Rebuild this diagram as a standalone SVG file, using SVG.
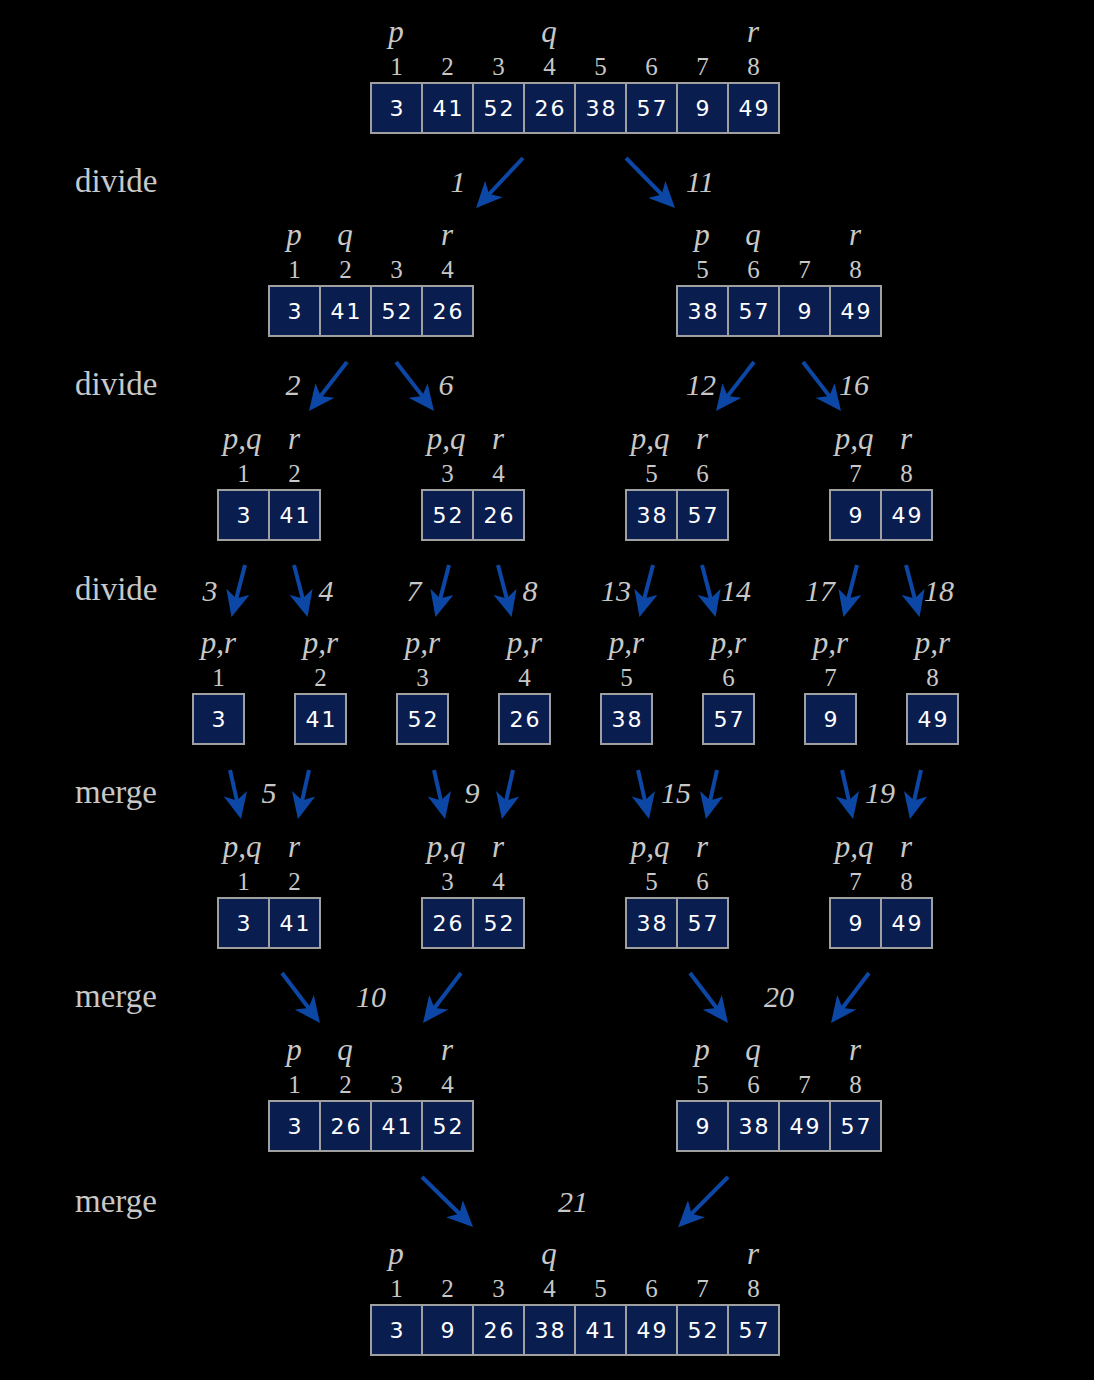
<svg xmlns="http://www.w3.org/2000/svg" width="1094" height="1380" viewBox="0 0 1094 1380">
<style>
.bg{fill:#000}
.cell{fill:#0a1d4f;stroke:#a0a0a0;stroke-width:2}
.val{font-family:"DejaVu Sans",sans-serif;font-size:22px;fill:#fff;text-anchor:middle;letter-spacing:2px}
.idx{font-family:"Liberation Serif",serif;font-size:25px;fill:#c8c8c8;text-anchor:middle}
.var{font-family:"Liberation Serif",serif;font-style:italic;font-size:31px;fill:#c8c8c8;text-anchor:middle}
.step{font-family:"Liberation Serif",serif;font-style:italic;font-size:30px;fill:#c8c8c8;text-anchor:middle}
.phase{font-family:"Liberation Serif",serif;font-size:33px;fill:#c8c8c8}
.arr{stroke:#0c47a6;stroke-width:4;fill:none;marker-end:url(#ah)}
</style>
<defs>
<marker id="ah" markerUnits="userSpaceOnUse" viewBox="0 0 26 24" markerWidth="26" markerHeight="24" refX="10" refY="12" orient="auto">
<path d="M0,0 L26,12 L0,24 L7,12 z" fill="#0c47a6"/>
</marker>
</defs>
<rect class="bg" x="0" y="0" width="1094" height="1380"/>

<g id="phase-labels">
<text class="phase" x="75" y="192">divide</text>
<text class="phase" x="75" y="395">divide</text>
<text class="phase" x="75" y="600">divide</text>
<text class="phase" x="75" y="803">merge</text>
<text class="phase" x="75" y="1007">merge</text>
<text class="phase" x="75" y="1212">merge</text>
</g>

<g id="connectors">
<line class="arr" x1="523" y1="158" x2="487" y2="196.3"/>
<line class="arr" x1="626" y1="158" x2="663.8" y2="196.6"/>
<line class="arr" x1="347" y1="362" x2="318.8" y2="398.4"/>
<line class="arr" x1="396" y1="362" x2="424.2" y2="398.4"/>
<line class="arr" x1="754" y1="362" x2="725.8" y2="398.4"/>
<line class="arr" x1="803" y1="362" x2="831.2" y2="398.4"/>
<line class="arr" x1="245" y1="565" x2="235.5" y2="601.5"/>
<line class="arr" x1="294" y1="565" x2="303.5" y2="601.5"/>
<line class="arr" x1="449" y1="565" x2="439.5" y2="601.5"/>
<line class="arr" x1="498" y1="565" x2="507.5" y2="601.5"/>
<line class="arr" x1="653" y1="565" x2="643.5" y2="601.5"/>
<line class="arr" x1="702" y1="565" x2="711.5" y2="601.5"/>
<line class="arr" x1="857" y1="565" x2="847.5" y2="601.5"/>
<line class="arr" x1="906" y1="565" x2="915.5" y2="601.5"/>
<line class="arr" x1="230" y1="770" x2="237.5" y2="803.4"/>
<line class="arr" x1="309" y1="770" x2="301.5" y2="803.4"/>
<line class="arr" x1="434" y1="770" x2="441.5" y2="803.4"/>
<line class="arr" x1="513" y1="770" x2="505.5" y2="803.4"/>
<line class="arr" x1="638" y1="770" x2="645.5" y2="803.4"/>
<line class="arr" x1="717" y1="770" x2="709.5" y2="803.4"/>
<line class="arr" x1="842" y1="770" x2="849.5" y2="803.4"/>
<line class="arr" x1="921" y1="770" x2="913.5" y2="803.4"/>
<line class="arr" x1="282" y1="973" x2="310.3" y2="1010.3"/>
<line class="arr" x1="461" y1="973" x2="432.7" y2="1010.3"/>
<line class="arr" x1="690" y1="973" x2="718.3" y2="1010.3"/>
<line class="arr" x1="869" y1="973" x2="840.7" y2="1010.3"/>
<line class="arr" x1="422" y1="1177" x2="461.6" y2="1215.8"/>
<line class="arr" x1="728" y1="1177" x2="689.4" y2="1215.8"/>
</g>

<g id="step-labels">
<text class="step" x="458" y="192">1</text>
<text class="step" x="700" y="192">11</text>
<text class="step" x="293" y="395">2</text>
<text class="step" x="446" y="395">6</text>
<text class="step" x="701" y="395">12</text>
<text class="step" x="854" y="395">16</text>
<text class="step" x="210" y="601">3</text>
<text class="step" x="326" y="601">4</text>
<text class="step" x="414" y="601">7</text>
<text class="step" x="530" y="601">8</text>
<text class="step" x="616" y="601">13</text>
<text class="step" x="736" y="601">14</text>
<text class="step" x="820" y="601">17</text>
<text class="step" x="939" y="601">18</text>
<text class="step" x="269" y="803">5</text>
<text class="step" x="472" y="803">9</text>
<text class="step" x="676" y="803">15</text>
<text class="step" x="880" y="803">19</text>
<text class="step" x="371" y="1007">10</text>
<text class="step" x="779" y="1007">20</text>
<text class="step" x="573" y="1212">21</text>
</g>

<!-- Row 0 -->
<g id="a-1-8">
<text class="var" x="396" y="42">p</text><text class="var" x="549" y="42">q</text><text class="var" x="753" y="42">r</text>
<text class="idx" x="396.5" y="75">1</text><text class="idx" x="447.5" y="75">2</text><text class="idx" x="498.5" y="75">3</text><text class="idx" x="549.5" y="75">4</text><text class="idx" x="600.5" y="75">5</text><text class="idx" x="651.5" y="75">6</text><text class="idx" x="702.5" y="75">7</text><text class="idx" x="753.5" y="75">8</text>
<rect class="cell" x="371" y="83" width="51" height="50"/><rect class="cell" x="422" y="83" width="51" height="50"/><rect class="cell" x="473" y="83" width="51" height="50"/><rect class="cell" x="524" y="83" width="51" height="50"/><rect class="cell" x="575" y="83" width="51" height="50"/><rect class="cell" x="626" y="83" width="51" height="50"/><rect class="cell" x="677" y="83" width="51" height="50"/><rect class="cell" x="728" y="83" width="51" height="50"/>
<text class="val" x="397.5" y="116">3</text><text class="val" x="448.5" y="116">41</text><text class="val" x="499.5" y="116">52</text><text class="val" x="550.5" y="116">26</text><text class="val" x="601.5" y="116">38</text><text class="val" x="652.5" y="116">57</text><text class="val" x="703.5" y="116">9</text><text class="val" x="754.5" y="116">49</text>
</g>

<!-- Row 1 -->
<g id="a-1-4">
<text class="var" x="294" y="245">p</text><text class="var" x="345" y="245">q</text><text class="var" x="447" y="245">r</text>
<text class="idx" x="294.5" y="278">1</text><text class="idx" x="345.5" y="278">2</text><text class="idx" x="396.5" y="278">3</text><text class="idx" x="447.5" y="278">4</text>
<rect class="cell" x="269" y="286" width="51" height="50"/><rect class="cell" x="320" y="286" width="51" height="50"/><rect class="cell" x="371" y="286" width="51" height="50"/><rect class="cell" x="422" y="286" width="51" height="50"/>
<text class="val" x="295.5" y="319">3</text><text class="val" x="346.5" y="319">41</text><text class="val" x="397.5" y="319">52</text><text class="val" x="448.5" y="319">26</text>
</g>
<g id="a-5-8">
<text class="var" x="702" y="245">p</text><text class="var" x="753" y="245">q</text><text class="var" x="855" y="245">r</text>
<text class="idx" x="702.5" y="278">5</text><text class="idx" x="753.5" y="278">6</text><text class="idx" x="804.5" y="278">7</text><text class="idx" x="855.5" y="278">8</text>
<rect class="cell" x="677" y="286" width="51" height="50"/><rect class="cell" x="728" y="286" width="51" height="50"/><rect class="cell" x="779" y="286" width="51" height="50"/><rect class="cell" x="830" y="286" width="51" height="50"/>
<text class="val" x="703.5" y="319">38</text><text class="val" x="754.5" y="319">57</text><text class="val" x="805.5" y="319">9</text><text class="val" x="856.5" y="319">49</text>
</g>

<!-- Row 2 -->
<g id="a-1-2">
<text class="var" x="242" y="449">p,q</text><text class="var" x="294" y="449">r</text>
<text class="idx" x="243.5" y="482">1</text><text class="idx" x="294.5" y="482">2</text>
<rect class="cell" x="218" y="490" width="51" height="50"/><rect class="cell" x="269" y="490" width="51" height="50"/>
<text class="val" x="244.5" y="523">3</text><text class="val" x="295.5" y="523">41</text>
</g>
<g id="a-3-4">
<text class="var" x="446" y="449">p,q</text><text class="var" x="498" y="449">r</text>
<text class="idx" x="447.5" y="482">3</text><text class="idx" x="498.5" y="482">4</text>
<rect class="cell" x="422" y="490" width="51" height="50"/><rect class="cell" x="473" y="490" width="51" height="50"/>
<text class="val" x="448.5" y="523">52</text><text class="val" x="499.5" y="523">26</text>
</g>
<g id="a-5-6">
<text class="var" x="650" y="449">p,q</text><text class="var" x="702" y="449">r</text>
<text class="idx" x="651.5" y="482">5</text><text class="idx" x="702.5" y="482">6</text>
<rect class="cell" x="626" y="490" width="51" height="50"/><rect class="cell" x="677" y="490" width="51" height="50"/>
<text class="val" x="652.5" y="523">38</text><text class="val" x="703.5" y="523">57</text>
</g>
<g id="a-7-8">
<text class="var" x="854" y="449">p,q</text><text class="var" x="906" y="449">r</text>
<text class="idx" x="855.5" y="482">7</text><text class="idx" x="906.5" y="482">8</text>
<rect class="cell" x="830" y="490" width="51" height="50"/><rect class="cell" x="881" y="490" width="51" height="50"/>
<text class="val" x="856.5" y="523">9</text><text class="val" x="907.5" y="523">49</text>
</g>

<!-- Row 3 -->
<g id="a-1"><text class="var" x="218.5" y="653">p,r</text><text class="idx" x="218.5" y="686">1</text><rect class="cell" x="193" y="694" width="51" height="50"/><text class="val" x="219.5" y="727">3</text></g>
<g id="a-2"><text class="var" x="320.5" y="653">p,r</text><text class="idx" x="320.5" y="686">2</text><rect class="cell" x="295" y="694" width="51" height="50"/><text class="val" x="321.5" y="727">41</text></g>
<g id="a-3"><text class="var" x="422.5" y="653">p,r</text><text class="idx" x="422.5" y="686">3</text><rect class="cell" x="397" y="694" width="51" height="50"/><text class="val" x="423.5" y="727">52</text></g>
<g id="a-4"><text class="var" x="524.5" y="653">p,r</text><text class="idx" x="524.5" y="686">4</text><rect class="cell" x="499" y="694" width="51" height="50"/><text class="val" x="525.5" y="727">26</text></g>
<g id="a-5"><text class="var" x="626.5" y="653">p,r</text><text class="idx" x="626.5" y="686">5</text><rect class="cell" x="601" y="694" width="51" height="50"/><text class="val" x="627.5" y="727">38</text></g>
<g id="a-6"><text class="var" x="728.5" y="653">p,r</text><text class="idx" x="728.5" y="686">6</text><rect class="cell" x="703" y="694" width="51" height="50"/><text class="val" x="729.5" y="727">57</text></g>
<g id="a-7"><text class="var" x="830.5" y="653">p,r</text><text class="idx" x="830.5" y="686">7</text><rect class="cell" x="805" y="694" width="51" height="50"/><text class="val" x="831.5" y="727">9</text></g>
<g id="a-8"><text class="var" x="932.5" y="653">p,r</text><text class="idx" x="932.5" y="686">8</text><rect class="cell" x="907" y="694" width="51" height="50"/><text class="val" x="933.5" y="727">49</text></g>

<!-- Row 4 -->
<g id="m-1-2">
<text class="var" x="242" y="857">p,q</text><text class="var" x="294" y="857">r</text>
<text class="idx" x="243.5" y="890">1</text><text class="idx" x="294.5" y="890">2</text>
<rect class="cell" x="218" y="898" width="51" height="50"/><rect class="cell" x="269" y="898" width="51" height="50"/>
<text class="val" x="244.5" y="931">3</text><text class="val" x="295.5" y="931">41</text>
</g>
<g id="m-3-4">
<text class="var" x="446" y="857">p,q</text><text class="var" x="498" y="857">r</text>
<text class="idx" x="447.5" y="890">3</text><text class="idx" x="498.5" y="890">4</text>
<rect class="cell" x="422" y="898" width="51" height="50"/><rect class="cell" x="473" y="898" width="51" height="50"/>
<text class="val" x="448.5" y="931">26</text><text class="val" x="499.5" y="931">52</text>
</g>
<g id="m-5-6">
<text class="var" x="650" y="857">p,q</text><text class="var" x="702" y="857">r</text>
<text class="idx" x="651.5" y="890">5</text><text class="idx" x="702.5" y="890">6</text>
<rect class="cell" x="626" y="898" width="51" height="50"/><rect class="cell" x="677" y="898" width="51" height="50"/>
<text class="val" x="652.5" y="931">38</text><text class="val" x="703.5" y="931">57</text>
</g>
<g id="m-7-8">
<text class="var" x="854" y="857">p,q</text><text class="var" x="906" y="857">r</text>
<text class="idx" x="855.5" y="890">7</text><text class="idx" x="906.5" y="890">8</text>
<rect class="cell" x="830" y="898" width="51" height="50"/><rect class="cell" x="881" y="898" width="51" height="50"/>
<text class="val" x="856.5" y="931">9</text><text class="val" x="907.5" y="931">49</text>
</g>

<!-- Row 5 -->
<g id="m-1-4">
<text class="var" x="294" y="1060">p</text><text class="var" x="345" y="1060">q</text><text class="var" x="447" y="1060">r</text>
<text class="idx" x="294.5" y="1093">1</text><text class="idx" x="345.5" y="1093">2</text><text class="idx" x="396.5" y="1093">3</text><text class="idx" x="447.5" y="1093">4</text>
<rect class="cell" x="269" y="1101" width="51" height="50"/><rect class="cell" x="320" y="1101" width="51" height="50"/><rect class="cell" x="371" y="1101" width="51" height="50"/><rect class="cell" x="422" y="1101" width="51" height="50"/>
<text class="val" x="295.5" y="1134">3</text><text class="val" x="346.5" y="1134">26</text><text class="val" x="397.5" y="1134">41</text><text class="val" x="448.5" y="1134">52</text>
</g>
<g id="m-5-8">
<text class="var" x="702" y="1060">p</text><text class="var" x="753" y="1060">q</text><text class="var" x="855" y="1060">r</text>
<text class="idx" x="702.5" y="1093">5</text><text class="idx" x="753.5" y="1093">6</text><text class="idx" x="804.5" y="1093">7</text><text class="idx" x="855.5" y="1093">8</text>
<rect class="cell" x="677" y="1101" width="51" height="50"/><rect class="cell" x="728" y="1101" width="51" height="50"/><rect class="cell" x="779" y="1101" width="51" height="50"/><rect class="cell" x="830" y="1101" width="51" height="50"/>
<text class="val" x="703.5" y="1134">9</text><text class="val" x="754.5" y="1134">38</text><text class="val" x="805.5" y="1134">49</text><text class="val" x="856.5" y="1134">57</text>
</g>

<!-- Row 6 -->
<g id="m-1-8">
<text class="var" x="396" y="1264">p</text><text class="var" x="549" y="1264">q</text><text class="var" x="753" y="1264">r</text>
<text class="idx" x="396.5" y="1297">1</text><text class="idx" x="447.5" y="1297">2</text><text class="idx" x="498.5" y="1297">3</text><text class="idx" x="549.5" y="1297">4</text><text class="idx" x="600.5" y="1297">5</text><text class="idx" x="651.5" y="1297">6</text><text class="idx" x="702.5" y="1297">7</text><text class="idx" x="753.5" y="1297">8</text>
<rect class="cell" x="371" y="1305" width="51" height="50"/><rect class="cell" x="422" y="1305" width="51" height="50"/><rect class="cell" x="473" y="1305" width="51" height="50"/><rect class="cell" x="524" y="1305" width="51" height="50"/><rect class="cell" x="575" y="1305" width="51" height="50"/><rect class="cell" x="626" y="1305" width="51" height="50"/><rect class="cell" x="677" y="1305" width="51" height="50"/><rect class="cell" x="728" y="1305" width="51" height="50"/>
<text class="val" x="397.5" y="1338">3</text><text class="val" x="448.5" y="1338">9</text><text class="val" x="499.5" y="1338">26</text><text class="val" x="550.5" y="1338">38</text><text class="val" x="601.5" y="1338">41</text><text class="val" x="652.5" y="1338">49</text><text class="val" x="703.5" y="1338">52</text><text class="val" x="754.5" y="1338">57</text>
</g>
</svg>
